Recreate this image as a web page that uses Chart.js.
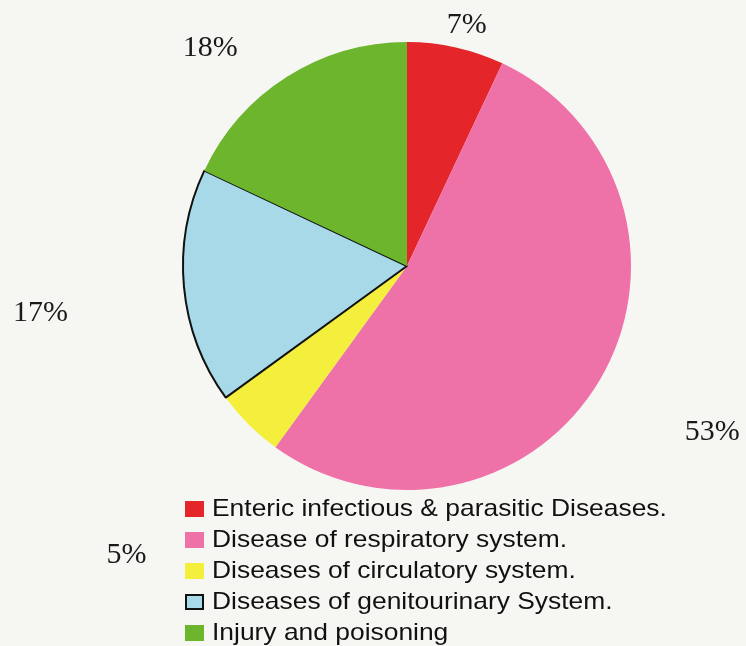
<!DOCTYPE html>
<html>
<head>
<meta charset="utf-8">
<script src="https://cdn.jsdelivr.net/npm/chart.js@4"></script>
<style>
  html, body { margin: 0; padding: 0; background: #f6f7f3; }
  #wrap { position: relative; width: 746px; height: 646px; overflow: hidden; }
  #legende {
    position: absolute; left: 185px; top: 494px;
    font-family: "Liberation Sans", Arial, sans-serif; font-size: 24px; color: #111;
  }
  #legende div { height: 31px; line-height: 28px; white-space: nowrap; }
  #legende span.boite {
    display: inline-block; width: 19px; height: 16px; margin-right: 8px; vertical-align: -1px;
    box-sizing: border-box;
  }
  #legende span.texte { display: inline-block; transform: scaleX(1.1); transform-origin: left center; }
</style>
</head>
<body>
<div id="wrap">
  <canvas id="graphique" width="746" height="646"></canvas>
  <div id="legende"></div>
</div>
<script>
// Données du graphique
var categories = [
  "Enteric infectious & parasitic Diseases.",
  "Disease of respiratory system.",
  "Diseases of circulatory system.",
  "Diseases of genitourinary System.",
  "Injury and poisoning"
];
var pourcentages = [7, 53, 5, 17, 18];
var couleurs = ["#e4262a", "#ee72a8", "#f4ef3c", "#a8d9e9", "#6cb52d"];

// Position des étiquettes : décalage d'angle (degrés) et distance (x rayon)
var placementEtiquettes = [[1.3, 1.11], [-2.1, 1.55], [-0.9, 1.8], [-2, 1.65], [-9.7, 1.31]];

var pluginEtiquettes = {
  id: "etiquettes",
  afterDatasetsDraw: function(chart) {
    var ctx = chart.ctx;
    var arcs = chart.getDatasetMeta(0).data;
    ctx.save();
    ctx.font = "30px 'Liberation Serif', 'Times New Roman', serif";
    ctx.fillStyle = "#1a1a1a";
    ctx.textAlign = "center";
    ctx.textBaseline = "middle";
    arcs.forEach(function(arc, i) {
      var milieu = (arc.startAngle + arc.endAngle) / 2 + placementEtiquettes[i][0] * Math.PI / 180;
      var r = arc.outerRadius * placementEtiquettes[i][1];
      ctx.fillText(pourcentages[i] + "%", arc.x + Math.cos(milieu) * r, arc.y + Math.sin(milieu) * r);
    });
    ctx.restore();
  }
};

var ctx = document.getElementById("graphique").getContext("2d");
var chart = new Chart(ctx, {
  type: "pie",
  data: {
    labels: categories,
    datasets: [{
      data: pourcentages,
      backgroundColor: couleurs,
      borderColor: ["#e4262a", "#ee72a8", "#f4ef3c", "#111111", "#6cb52d"],
      borderWidth: [0, 0, 0, 2, 0]
    }]
  },
  options: {
    responsive: false,
    animation: false,
    layout: { padding: { left: 182, right: 114, top: 41, bottom: 155 } },
    plugins: {
      legend: { display: false },
      tooltip: { enabled: false }
    }
  },
  plugins: [pluginEtiquettes]
});

// Légende en HTML
var legende = document.getElementById("legende");
categories.forEach(function(nom, i) {
  var ligne = document.createElement("div");
  var boite = document.createElement("span");
  boite.className = "boite";
  boite.style.background = couleurs[i];
  if (i === 3) boite.style.border = "2px solid #111";
  var texte = document.createElement("span");
  texte.className = "texte";
  texte.textContent = nom;
  ligne.appendChild(boite);
  ligne.appendChild(texte);
  legende.appendChild(ligne);
});
</script>
</body>
</html>
